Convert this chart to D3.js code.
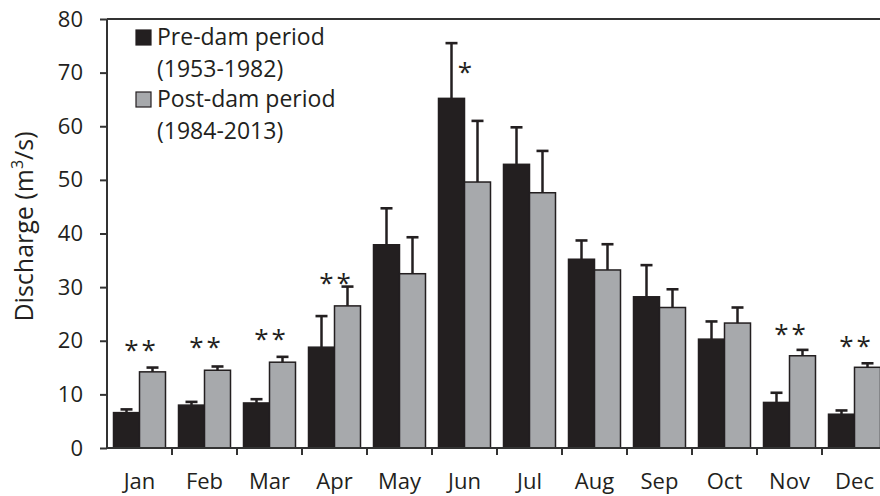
<!DOCTYPE html>
<html>
<head>
<meta charset="utf-8">
<script src="https://cdn.jsdelivr.net/npm/d3@7/dist/d3.min.js"></script>
<style>
  html, body { margin: 0; padding: 0; background: #fff; }
  svg { display: block; }
  text { font-family: "Open Sans", sans-serif; fill: #231f20; }
</style>
</head>
<body>
<svg id="chart" width="880" height="496"></svg>
<script>
// Monthly mean discharge with standard deviation, before and after dam construction
const months = ["Jan", "Feb", "Mar", "Apr", "May", "Jun", "Jul", "Aug", "Sep", "Oct", "Nov", "Dec"];
const preMean  = [6.6, 8.0, 8.4, 18.8, 37.9, 65.2, 52.9, 35.2, 28.2, 20.3, 8.5, 6.3];
const preSd    = [0.6, 0.6, 0.7, 5.8, 6.8, 10.3, 6.9, 3.5, 5.9, 3.3, 1.8, 0.7];
const postMean = [14.2, 14.5, 16.0, 26.5, 32.5, 49.6, 47.6, 33.2, 26.2, 23.3, 17.2, 15.05];
const postSd   = [0.8, 0.7, 1.0, 3.6, 6.8, 11.4, 7.8, 4.8, 3.4, 2.9, 1.1, 0.75];
// Significance marks and the discharge level they are written at
const sigMonths = ["Jan", "Feb", "Mar", "Apr", "Jun", "Nov", "Dec"];
const sigLabels = ["**", "**", "**", "**", "*", "**", "**"];
const sigLevels = [19.3, 19.8, 21.3, 31.7, 71.1, 22.2, 20.0];
const yTicks = [0, 10, 20, 30, 40, 50, 60, 70, 80];
const seriesNames = ["Pre-dam period", "Post-dam period"];
const seriesYears = ["(1953-1982)", "(1984-2013)"];

(function () {
  const dark = "#231f20", grey = "#a7a9ac";
  const svg = d3.select("#chart");
  const mLeft = 107, mRight = 887, mTop = 19, mBottom = 448;

  const x = d3.scaleBand().domain(months).range([mLeft, mRight]).paddingInner(0).paddingOuter(0);
  const inner = d3.scaleBand().domain([0, 1]).range([0, x.bandwidth()]).paddingOuter(0.25).paddingInner(0);
  const y = d3.scaleLinear().domain([0, 80]).range([mBottom, mTop]);

  const data = months.map((m, i) => ({
    month: m,
    vals: [{ k: 0, mean: preMean[i], sd: preSd[i] }, { k: 1, mean: postMean[i], sd: postSd[i] }]
  }));

  // frame top line
  svg.append("line").attr("x1", mLeft).attr("x2", 880).attr("y1", y(80)).attr("y2", y(80))
    .attr("stroke", "#333").attr("stroke-width", 2);

  // bars
  const groups = svg.append("g").selectAll("g").data(data).join("g")
    .attr("transform", d => `translate(${x(d.month)},0)`);
  groups.selectAll("rect").data(d => d.vals).join("rect")
    .attr("x", d => inner(d.k))
    .attr("width", inner.bandwidth())
    .attr("y", d => y(d.mean))
    .attr("height", d => y(0) - y(d.mean))
    .attr("fill", d => d.k === 0 ? dark : grey)
    .attr("stroke", dark).attr("stroke-width", 1.5);

  // error bars (upper only)
  const err = groups.selectAll("g.err").data(d => d.vals).join("g").attr("class", "err")
    .attr("transform", d => `translate(${inner(d.k) + inner.bandwidth() / 2},0)`);
  err.append("line").attr("x1", 0).attr("x2", 0)
    .attr("y1", d => y(d.mean)).attr("y2", d => y(d.mean + d.sd))
    .attr("stroke", dark).attr("stroke-width", 2.5);
  err.append("line").attr("x1", -6).attr("x2", 6)
    .attr("y1", d => y(d.mean + d.sd)).attr("y2", d => y(d.mean + d.sd))
    .attr("stroke", dark).attr("stroke-width", 2.6);

  // y axis
  const yAxis = svg.append("g").attr("transform", `translate(${mLeft},0)`)
    .call(d3.axisLeft(y).tickValues(yTicks).tickSize(7).tickPadding(17));
  yAxis.select(".domain").attr("stroke", "#333").attr("stroke-width", 2)
    .attr("d", `M0,${mBottom}V${mTop}`);
  yAxis.selectAll(".tick line").attr("stroke", "#333").attr("stroke-width", 2);
  yAxis.selectAll(".tick text").attr("font-size", 22).attr("font-family", "Open Sans").attr("fill", dark);

  // x axis with ticks between months
  const xAxis = svg.append("g").attr("transform", `translate(0,${mBottom})`);
  xAxis.append("line").attr("x1", mLeft).attr("x2", 880).attr("y1", 0).attr("y2", 0)
    .attr("stroke", "#333").attr("stroke-width", 2);
  xAxis.selectAll("line.tk").data(months).join("line").attr("class", "tk")
    .attr("x1", d => x(d) + x.bandwidth()).attr("x2", d => x(d) + x.bandwidth())
    .attr("y1", 0).attr("y2", 7).attr("stroke", "#333").attr("stroke-width", 2);
  xAxis.selectAll("text").data(months).join("text")
    .attr("x", d => x(d) + x.bandwidth() / 2).attr("y", 41)
    .attr("text-anchor", "middle").attr("font-size", 22).text(d => d);

  // y axis title
  svg.append("text").attr("transform", `translate(33,${(mTop + mBottom) / 2 - 7}) rotate(-90)`)
    .attr("text-anchor", "middle").attr("font-size", 25)
    .html('Discharge (m<tspan dy="-10" font-size="16">3</tspan><tspan dy="10">/s)</tspan>');

  // significance marks
  svg.append("g").selectAll("text").data(sigMonths).join("text")
    .attr("x", d => x(d) + x.bandwidth() / 2 + 2)
    .attr("y", (d, i) => y(sigLevels[i]) + 14)
    .attr("text-anchor", "middle").attr("font-size", 26).attr("letter-spacing", 3)
    .text((d, i) => sigLabels[i]);

  // legend
  const legend = svg.append("g");
  [0, 1].forEach(k => {
    legend.append("rect").attr("x", 136).attr("y", k === 0 ? 30 : 92)
      .attr("width", 15).attr("height", 15)
      .attr("fill", k === 0 ? dark : grey).attr("stroke", dark).attr("stroke-width", 1.2);
    legend.append("text").attr("x", 157).attr("y", k === 0 ? 45 : 107).attr("font-size", 23).text(seriesNames[k]);
    legend.append("text").attr("x", 157).attr("y", k === 0 ? 77 : 139).attr("font-size", 23).text(seriesYears[k]);
  });
})();
</script>
</body>
</html>
